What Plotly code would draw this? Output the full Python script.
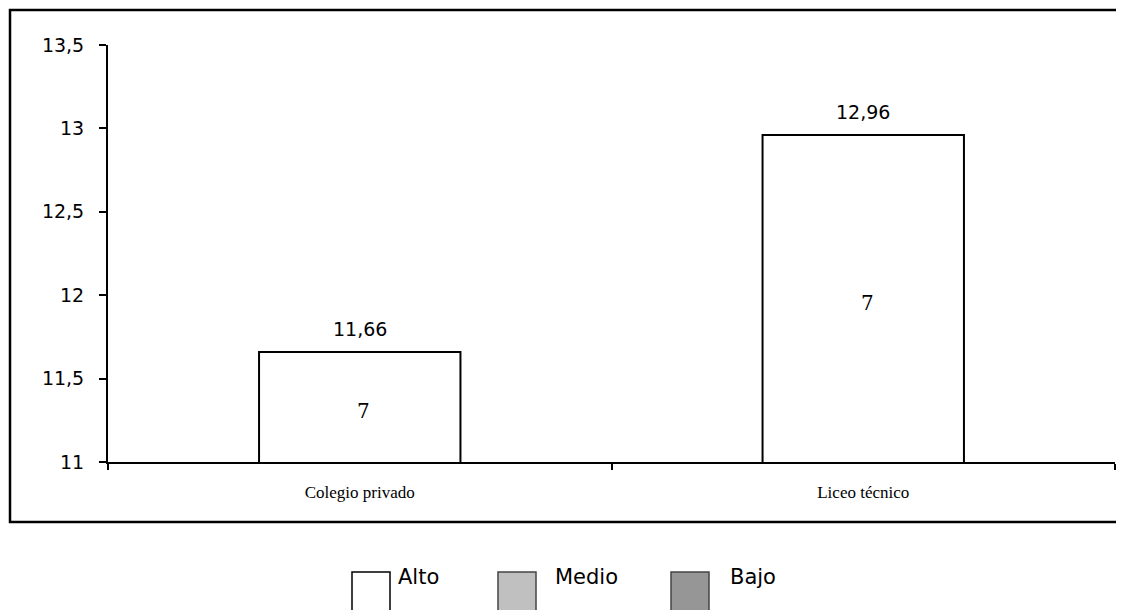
import plotly.graph_objects as go

categories = ["Colegio privado", "Liceo técnico"]
alto_values = [11.66, 12.96]
alto_counts = [7, 7]
value_labels = ["11,66", "12,96"]
legend_names = ["Alto", "Medio", "Bajo"]
legend_colors = ["#ffffff", "#c0c0c0", "#969696"]
y_ticks = [11, 11.5, 12, 12.5, 13, 13.5]
y_tick_labels = ["11", "11,5", "12", "12,5", "13", "13,5"]
y_min = 11

SANS = "DejaVu Sans"
SERIF = "DejaVu Serif"

fig = go.Figure()
fig.add_trace(go.Bar(
    x=categories, y=alto_values, name="Alto",
    marker=dict(color="white", line=dict(color="black", width=2)),
    width=0.4, showlegend=False,
))

for cat, v, lab, n in zip(categories, alto_values, value_labels, alto_counts):
    fig.add_annotation(x=cat, y=v, text=lab, showarrow=False, yanchor="bottom",
                       yshift=10, font=dict(family=SANS, size=19, color="black"))
    fig.add_annotation(x=cat, y=(y_min + v) / 2, text=str(n), showarrow=False,
                       yanchor="middle", yshift=-4, xshift=4,
                       font=dict(family=SERIF, size=20, color="black"))

# figure is drawn 8px in from the page corner; positions below are page pixels
L, R = 108, 1115
T, B = 45, 462
def px(x):
    return (x - L) / (R - L)
def py(y):
    return (B - y) / (B - T)

# outer border
fig.add_shape(type="rect", xref="paper", yref="paper", x0=px(10), x1=px(1135),
              y0=py(522), y1=py(10), line=dict(color="black", width=2.5), layer="below")

# manual legend
sw_x = [352, 498, 671]
txt_x = [396, 553, 728]
for name, col, sx, tx in zip(legend_names, legend_colors, sw_x, txt_x):
    fig.add_shape(type="rect", xref="paper", yref="paper", x0=px(sx), x1=px(sx + 38),
                  y0=py(615), y1=py(572),
                  line=dict(color="black" if col == "#ffffff" else "#444", width=1.5),
                  fillcolor=col)
    fig.add_annotation(xref="paper", yref="paper", x=px(tx), y=py(577), text=name,
                       showarrow=False, xanchor="left", yanchor="middle",
                       font=dict(family=SANS, size=21, color="black"))

fig.update_layout(
    width=1116, height=602,
    margin=dict(l=100, r=9, t=37, b=148),
    paper_bgcolor="white", plot_bgcolor="white",
    barmode="overlay", showlegend=False,
    separators=", ",
    xaxis=dict(showline=True, linecolor="black", linewidth=2, ticks="outside",
               tickson="boundaries", ticklen=6, tickwidth=2, tickcolor="black",
               ticklabelstandoff=14,
               tickfont=dict(family="Liberation Serif", size=17, color="black"),
               showgrid=False, zeroline=False),
    yaxis=dict(range=[11, 13.5], tickvals=y_ticks, ticktext=y_tick_labels,
               showline=True, linecolor="black", linewidth=2, ticks="outside",
               ticklen=7, tickwidth=1.5, tickcolor="black",
               ticklabelstandoff=11,
               tickfont=dict(family=SANS, size=19, color="black"),
               showgrid=False, zeroline=False),
)

fig.write_html("out.html")
